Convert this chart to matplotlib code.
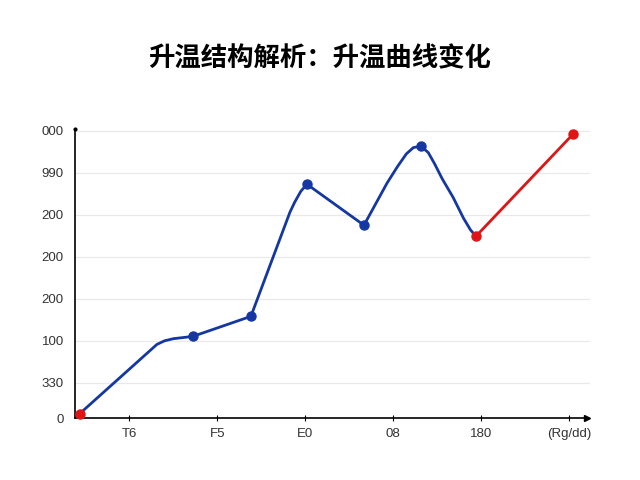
import matplotlib
matplotlib.use("Agg")
import matplotlib.pyplot as plt

plt.rcParams['font.family'] = ['Noto Sans CJK SC', 'DejaVu Sans']

title = "升温结构解析：升温曲线变化"

x_ticks = [1, 2, 3, 4, 5, 6]
x_labels = ["T6", "F5", "E0", "08", "180", "(Rg/dd)"]
y_ticks = [0.16, 1, 2, 3, 4, 5, 6, 7]
y_labels = ["0", "330", "100", "200", "200", "200", "990", "000"]

# line path (blue part, then red part)
blue_x = [0.437, 1.313, 1.400, 1.500, 1.722, 2.382, 2.826, 2.880, 2.950, 3.019,
          3.668, 3.793, 3.930, 4.050, 4.150, 4.230, 4.316, 4.400, 4.470,
          4.560, 4.681, 4.800, 4.880, 4.942]
blue_y = [0.269, 1.914, 2.000, 2.050, 2.105, 2.582, 5.061, 5.300, 5.560, 5.729,
          4.752, 5.229, 5.753, 6.150, 6.450, 6.600, 6.634, 6.480, 6.220,
          5.850, 5.419, 4.920, 4.640, 4.490]
red_x = [4.942, 6.046]
red_y = [4.490, 6.920]

# marker points
blue_pts_x = [1.722, 2.382, 3.019, 3.668, 4.316]
blue_pts_y = [2.105, 2.582, 5.729, 4.752, 6.634]
red_pts_x = [0.437, 4.942, 6.046]
red_pts_y = [0.269, 4.490, 6.920]

blue = "#1537a2"
red = "#e01414"

fig = plt.figure(figsize=(6.4, 4.8), dpi=100)
ax = fig.add_axes([0.117, 0.129, 0.805, 0.602])

for g in y_ticks[1:]:
    ax.axhline(g, color="#e9e9e9", lw=0.9, zorder=0)

ax.plot(blue_x, blue_y, color=blue, lw=2.0, solid_joinstyle="round", zorder=2)
ax.plot(red_x, red_y, color=red, lw=2.0, zorder=2)
ax.plot(blue_pts_x, blue_pts_y, "o", color=blue, ms=6.5, zorder=3)
ax.plot(red_pts_x, red_pts_y, "o", color=red, ms=6.5, zorder=3, clip_on=False)

ax.set_xlim(0.38, 6.24)
ax.set_ylim(0.16, 7.04)

for s in ["top", "right"]:
    ax.spines[s].set_visible(False)
ax.spines["left"].set_linewidth(1.2)
ax.spines["bottom"].set_linewidth(1.2)
ax.spines["bottom"].set_bounds(0.38, 6.18)

ax.plot(6.2, 0.16, ">", color="black", ms=5, clip_on=False)
ax.plot(0.38, 7.04, "o", color="black", ms=2, clip_on=False)

ax.set_xticks(x_ticks)
ax.set_xticklabels(x_labels, family=["Liberation Sans", "DejaVu Sans"])
ax.set_yticks(y_ticks)
ax.set_yticklabels(y_labels, family=["Liberation Sans", "DejaVu Sans"])
ax.tick_params(axis="x", direction="inout", length=4, width=0.8, labelsize=9.5,
               labelcolor="#333333", pad=5)
ax.tick_params(axis="y", length=0, labelsize=9.5, labelcolor="#333333", pad=8)

fig.text(0.5, 0.878, title, ha="center", va="center", fontsize=19, fontweight="bold")

fig.savefig("out.png", dpi=100, facecolor="white")
